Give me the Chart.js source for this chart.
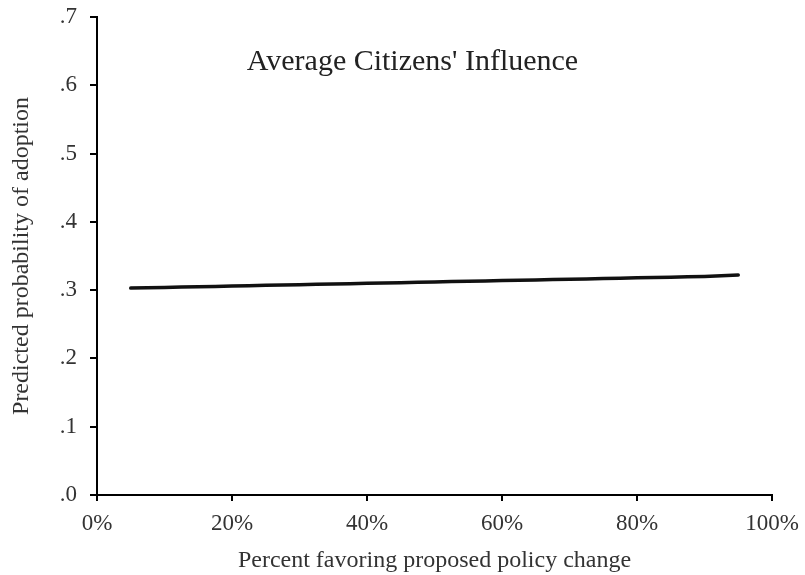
<!DOCTYPE html>
<html>
<head>
<meta charset="utf-8">
<script src="https://cdn.jsdelivr.net/npm/chart.js@4/dist/chart.umd.min.js"></script>
<style>
  html, body { margin: 0; padding: 0; background: #fff; }
  #wrap { position: relative; width: 805px; height: 575px; }
</style>
</head>
<body>
<div id="wrap"><canvas id="c"></canvas></div>
<script>
// ---- data ----
const percentFavoring = [5, 10, 15, 20, 25, 30, 35, 40, 45, 50, 55, 60, 65, 70, 75, 80, 85, 90, 95];
const predictedProbability = [0.303, 0.304, 0.305, 0.306, 0.307, 0.308, 0.309, 0.310, 0.311, 0.312,
                              0.313, 0.314, 0.315, 0.316, 0.317, 0.318, 0.319, 0.320, 0.322];
const xTickValues = [0, 20, 40, 60, 80, 100];
const yTickValues = [0, 0.1, 0.2, 0.3, 0.4, 0.5, 0.6, 0.7];
const chartTitle = "Average Citizens' Influence";
const xAxisTitle = "Percent favoring proposed policy change";
const yAxisTitle = "Predicted probability of adoption";

const SERIF = "'Liberation Serif', 'Times New Roman', serif";

const innerTitle = {
  id: 'innerTitle',
  afterDraw(chart) {
    const { ctx, chartArea } = chart;
    ctx.save();
    ctx.font = "30px " + SERIF;
    ctx.fillStyle = '#222';
    ctx.textAlign = 'center';
    ctx.textBaseline = 'middle';
    ctx.fillText(chartTitle, (chartArea.left + chartArea.right) / 2 - 22, chartArea.top + 45);
    ctx.restore();
  }
};

new Chart(document.getElementById('c'), {
  type: 'line',
  data: {
    datasets: [{
      data: percentFavoring.map((x, i) => ({ x: x, y: predictedProbability[i] })),
      borderColor: '#111',
      borderWidth: 3.5,
      borderCapStyle: 'round',
      pointRadius: 0,
      tension: 0.3,
      fill: false
    }]
  },
  options: {
    responsive: true,
    maintainAspectRatio: false,
    animation: false,
    layout: { padding: { left: 0, right: 33, top: 17, bottom: 0 } },
    plugins: { legend: { display: false }, tooltip: { enabled: false }, title: { display: false } },
    scales: {
      x: {
        type: 'linear',
        min: 0, max: 100,
        afterBuildTicks(scale) { scale.ticks = xTickValues.map(v => ({ value: v })); },
        afterFit(scale) { scale.height = 80; scale.paddingLeft = 0; scale.paddingRight = 0; },
        ticks: {
          color: '#333',
          font: { family: SERIF, size: 23 },
          padding: 9,
          maxRotation: 0,
          callback: v => v + '%'
        },
        grid: { display: true, drawOnChartArea: false, drawTicks: true, tickLength: 6, color: '#000', lineWidth: 2 },
        border: { display: true, color: '#000', width: 2 },
        title: { display: true, text: xAxisTitle, color: '#333', font: { family: SERIF, size: 24 }, padding: { top: 0, bottom: 0 } }
      },
      y: {
        min: 0, max: 0.7,
        afterBuildTicks(scale) { scale.ticks = yTickValues.map(v => ({ value: v })); },
        afterFit(scale) { scale.width = 97; scale.paddingTop = 0; scale.paddingBottom = 0; },
        ticks: {
          color: '#333',
          font: { family: SERIF, size: 23 },
          padding: 13,
          callback: v => '.' + Math.round(v * 10)
        },
        grid: { display: true, drawOnChartArea: false, drawTicks: true, tickLength: 7, color: '#000', lineWidth: 2 },
        border: { display: true, color: '#000', width: 2 },
        title: { display: true, text: yAxisTitle, color: '#333', font: { family: SERIF, size: 24 }, padding: { top: 7, bottom: 0 } }
      }
    }
  },
  plugins: [innerTitle]
});
</script>
</body>
</html>
